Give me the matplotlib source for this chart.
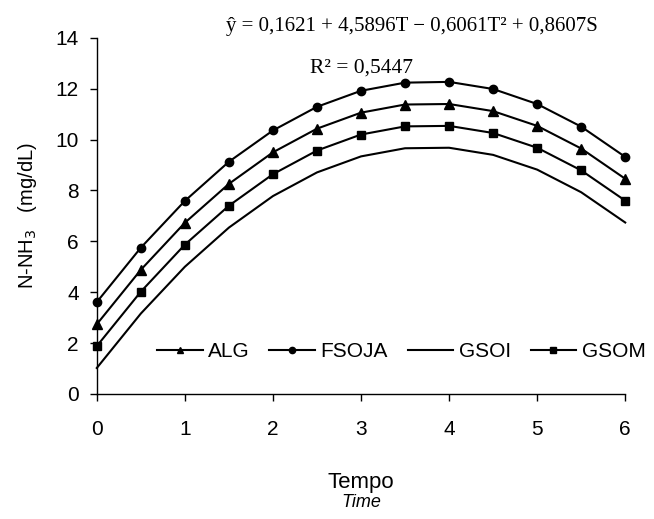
import numpy as np
import matplotlib.pyplot as plt

plt.rcParams['font.family'] = ['Liberation Sans', 'DejaVu Sans']

tempo = [0, 0.5, 1, 1.5, 2, 2.5, 3, 3.5, 4, 4.5, 5, 5.5, 6]
alg = [2.74, 4.88, 6.73, 8.26, 9.50, 10.43, 11.06, 11.38, 11.40, 11.12, 10.54, 9.65, 8.46]
fsoja = [3.61, 5.75, 7.59, 9.13, 10.36, 11.29, 11.92, 12.24, 12.27, 11.99, 11.40, 10.51, 9.32]
gsoi = [1.02, 3.16, 5.00, 6.54, 7.78, 8.71, 9.34, 9.66, 9.68, 9.40, 8.82, 7.93, 6.74]
gsom = [1.88, 4.02, 5.87, 7.40, 8.64, 9.57, 10.20, 10.52, 10.54, 10.26, 9.68, 8.79, 7.60]

fig = plt.figure(figsize=(6.54, 5.19), dpi=100)
ax = fig.add_axes([0.148, 0.241, 0.808, 0.686])

ax.plot(tempo, alg, color='black', lw=1.5, marker='^', ms=6.5, label='ALG')
ax.plot(tempo, fsoja, color='black', lw=1.5, marker='o', ms=6, label='FSOJA')
ax.plot(tempo, gsoi, color='black', lw=1.5, label='GSOI')
ax.plot(tempo, gsom, color='black', lw=1.5, marker='s', ms=6, label='GSOM')

ax.set_xlim(0, 6)
ax.set_ylim(0, 14)
ax.set_xticks(range(0, 7))
ax.set_yticks(range(0, 15, 2))
ax.spines['top'].set_visible(False)
ax.spines['right'].set_visible(False)
ax.tick_params(labelsize=15, length=5, width=1)
ax.tick_params(axis='x', pad=14)
ax.tick_params(axis='y', pad=8)
for sp in ax.spines.values():
    sp.set_linewidth(1)
for ln in ax.lines:
    ln.set_clip_on(False)

ax.set_ylabel('N-NH$_3$   (mg/dL)', fontsize=14.5, labelpad=12)
ax.text(0.5, -0.25, 'Tempo', transform=ax.transAxes, ha='center', va='center', fontsize=16)
ax.text(0.5, -0.306, 'Time', transform=ax.transAxes, ha='center', va='center', fontsize=13, style='italic')

ax.text(0.597, 1.031, 'ŷ = 0,1621 + 4,5896T − 0,6061T² + 0,8607S', transform=ax.transAxes,
        ha='center', va='center', fontsize=15, family='Liberation Serif')
ax.text(0.5, 0.916, 'R² = 0,5447', transform=ax.transAxes,
        ha='center', va='center', fontsize=15.5, family='Liberation Serif')

ax.legend(loc='center', bbox_to_anchor=(0.576, 0.118), ncol=4, frameon=False,
          fontsize=15, handlelength=2.2, columnspacing=0.95, handletextpad=0.25,
          markerscale=0.75, borderaxespad=0, borderpad=0)

fig.savefig('out.png', dpi=100)
